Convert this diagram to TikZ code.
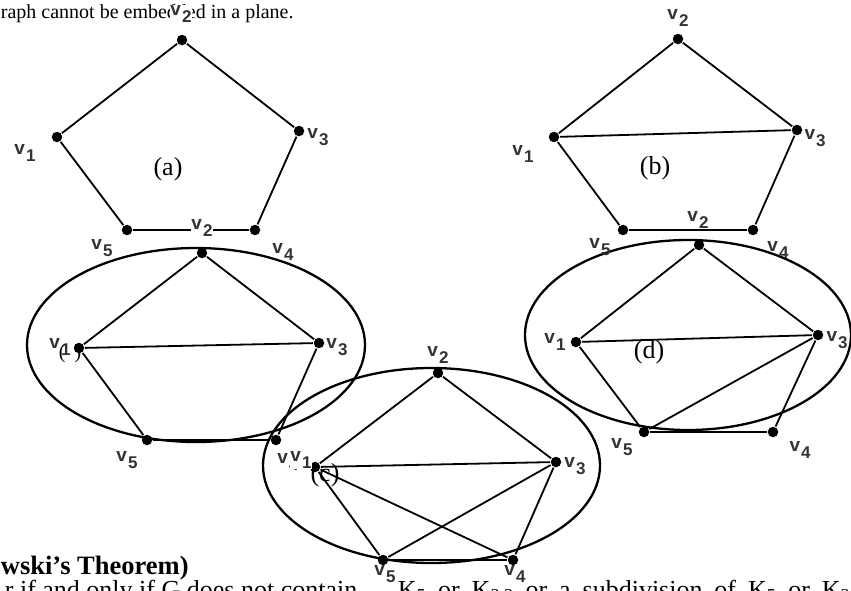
\documentclass[tikz,border=0pt]{standalone}
\usepackage{fontspec}
\setmainfont{Liberation Serif}
\setsansfont{Liberation Sans}
\usetikzlibrary{positioning}

\newcommand{\vl}[1]{v\kern1pt\raisebox{-7pt}{\fontsize{17}{17}\selectfont #1}}

\begin{document}
\begin{tikzpicture}[x=1pt,y=-1pt,line width=1.8pt,
  every node/.style={inner sep=0pt},
  vtx/.style={circle,fill,minimum size=10.5pt},
  vlab/.style={inner sep=0.5pt,text=black!80,font=\fontsize{19}{19}\sffamily\bfseries},
  vlabw/.style={vlab,fill=white},
  gname/.style={font=\fontsize{26}{26}\selectfont},
  rim/.style={line width=2.3pt},
]
\useasboundingbox (0,0) rectangle (851,590);
\clip (0,0) rectangle (851,590);

% the text round the figure
\node[anchor=base west] (top) at (0,18) {\fontsize{20}{24}\selectfont raph cannot be embedded in a plane.};
\node[anchor=base west] (thm) at (0,574) {\fontsize{26.5}{30}\selectfont\bfseries wski’s Theorem)};
\node[anchor=base west] (lineA) at (4,598) {\fontsize{26}{30}\selectfont r if and only if G does not contain};
\node[anchor=base west] (lineB) at (397,598) {\fontsize{26}{30}\selectfont\makebox[466pt][s]{K\textsubscript{5} or K\textsubscript{3,3} or a subdivision of K\textsubscript{5} or K\textsubscript{3,3}}};

% graph (a)
\foreach \n/\x/\y in {1/57/137,2/182/40,3/299/131,4/255/230,5/127/230}
  \node[vtx] (a\n) at (\x,\y) {};
\foreach \u/\v in {1/2,2/3,3/4,4/5,5/1}
  \draw (a\u) -- (a\v);
\node[gname] (na) at (168,169) {(a)};

% graph (b)
\foreach \n/\x/\y in {1/554/137,2/678/39,3/797/130,4/753/230,5/623/230}
  \node[vtx] (b\n) at (\x,\y) {};
\foreach \u/\v in {1/2,2/3,3/4,4/5,5/1,1/3}
  \draw (b\u) -- (b\v);
\node[gname] (nb) at (655,168) {(b)};

% graph in the left ellipse
\draw[rim] (196,345) ellipse [x radius=169pt, y radius=97pt];
\foreach \n/\x/\y in {1/79/348,2/202/253,3/319/343,4/276/440,5/147/440}
  \node[vtx] (l\n) at (\x,\y) {};
\foreach \u/\v in {1/2,2/3,3/4,4/5,5/1,1/3}
  \draw (l\u) -- (l\v);

% graph (c)
\draw[rim] (431.5,465.5) ellipse [x radius=168.5pt, y radius=97.5pt];
\foreach \n/\x/\y in {1/315/467,2/438/373,3/556/462,4/513/560,5/383/560}
  \node[vtx] (c\n) at (\x,\y) {};
\foreach \u/\v in {1/2,2/3,1/3,1/5,1/4,3/5,3/4,4/5}
  \draw (c\u) -- (c\v);

% graph (d)
\draw[rim] (688,335) ellipse [x radius=163pt, y radius=95pt];
\foreach \n/\x/\y in {1/576/342,2/699/245,3/818/335,4/773/432,5/644/432}
  \node[vtx] (d\n) at (\x,\y) {};
\foreach \u/\v in {1/2,2/3,1/3,1/5,3/5,3/4,4/5}
  \draw (d\u) -- (d\v);
\node[gname] (nd) at (649,352) {(d)};

% vertex labels
\foreach \n/\x/\y in {1/25/153,3/318/137,4/283/252,5/102/248}
  \node[vlab] (la\n) at (\x,\y) {\vl{\n}};
\node[vlabw] (la2) at (181,14) {\vl{2}};
\foreach \n/\x/\y in {1/523/154,2/678/18,3/815/138,4/778/250,5/600/247}
  \node[vlab] (lb\n) at (\x,\y) {\vl{\n}};
\foreach \n/\x/\y in {1/60/347,3/337/347,4/288/462,5/127/460}
  \node[vlab] (ll\n) at (\x,\y) {\vl{\n}};
\node[vlabw] (ll2) at (202,228) {\vl{2}};
\foreach \n/\x/\y in {2/438/355,3/575/466}
  \node[vlab] (lc\n) at (\x,\y) {\vl{\n}};
\foreach \n/\x/\y in {1/301/460,4/515/574,5/385/574}
  \node[vlabw] (lc\n) at (\x,\y) {\vl{\n}};
\foreach \n/\x/\y in {1/555/342,3/837/340,4/800/450,5/622/447}
  \node[vlab] (ld\n) at (\x,\y) {\vl{\n}};
\node[vlabw] (ld2) at (698,220) {\vl{2}};

% names over the labels
\node[gname,font=\fontsize{20}{20}\selectfont] (nl) at (70,354) {(\hspace{9pt})};
\node[gname] (nc) at (325,475) {(c)};
\end{tikzpicture}
\end{document}
